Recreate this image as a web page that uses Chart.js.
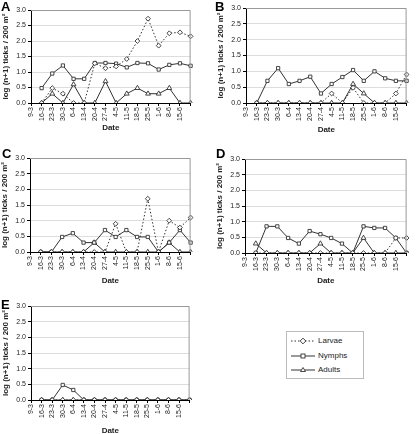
<!DOCTYPE html>
<html>
<head>
<meta charset="utf-8">
<script src="https://cdn.jsdelivr.net/npm/chart.js@4/dist/chart.umd.min.js"></script>
<style>
  body { margin: 0; width: 416px; height: 434px; background: #fff; position: relative; overflow: hidden;
         font-family: "Liberation Sans", Arial, sans-serif; }
  canvas { position: absolute; }
  .letter { position: absolute; font-weight: bold; font-size: 13px; line-height: 13px; color: #000; }
  .legend { position: absolute; left: 286px; top: 331px; width: 76px; height: 46px; border: 1px solid #bbb; }
  .legend div { position: absolute; left: 3px; height: 10px; font-size: 8px; line-height: 10px; color: #222; }
  .legend svg { vertical-align: top; margin-right: 2px; }
</style>
</head>
<body>

<script>
// sampling dates (last one has no label on the axis)
const dates = ['9-3', '16-3', '23-3', '30-3', '6-4', '13-4', '20-4', '27-4', '4-5', '11-5',
               '18-5', '25-5', '1-6', '8-6', '15-6', '22-6'];
const yTicks = [0, 0.5, 1.0, 1.5, 2.0, 2.5, 3.0];

// log(n+1) ticks / 200 m2, one value per date (9-3 not sampled)
const larvaeA = [null, 0, 0.48, 0.3, 0, 0, 1.28, 1.12, 1.18, 1.42, 2.0, 2.72, 1.85, 2.25, 2.28, 2.15];
const nymphsA = [null, 0.48, 0.95, 1.21, 0.78, 0.78, 1.29, 1.29, 1.27, 1.15, 1.29, 1.28, 1.08, 1.23, 1.28, 1.2];
const adultsA = [null, 0, 0.3, 0, 0.6, 0, 0, 0.7, 0, 0.3, 0.48, 0.3, 0.3, 0.48, 0, 0];

const larvaeB = [null, 0, 0, 0, 0, 0, 0, 0, 0.3, 0, 0.48, 0, 0, 0, 0.3, 0.9];
const nymphsB = [null, 0, 0.7, 1.1, 0.6, 0.7, 0.83, 0.3, 0.6, 0.82, 1.04, 0.7, 1.0, 0.78, 0.7, 0.7];
const adultsB = [null, 0, 0, 0, 0, 0, 0, 0, 0, 0, 0.6, 0.3, 0, 0, 0, 0];

const larvaeC = [null, 0, 0, 0, 0, 0, 0, 0, 0.9, 0, 0, 1.7, 0, 1.0, 0.78, 1.1];
const nymphsC = [null, 0, 0, 0.48, 0.6, 0.3, 0.3, 0.7, 0.48, 0.7, 0.48, 0.48, 0, 0.3, 0.7, 0.3];
const adultsC = [null, 0, 0, 0, 0, 0, 0.3, 0, 0, 0, 0, 0, 0, 0.3, 0, 0];

const larvaeD = [null, 0, 0, 0, 0, 0, 0, 0, 0, 0, 0, 0, 0, 0, 0.48, 0.48];
const nymphsD = [null, 0, 0.85, 0.85, 0.48, 0.3, 0.7, 0.6, 0.48, 0.3, 0, 0.85, 0.8, 0.8, 0.48, 0];
const adultsD = [null, 0.3, 0, 0, 0, 0, 0, 0.3, 0, 0, 0, 0.48, 0, 0, 0, 0];

const larvaeE = [null, 0, 0, 0, 0, 0, 0, 0, 0, 0, 0, 0, 0, 0, 0, 0];
const nymphsE = [null, 0, 0, 0.48, 0.32, 0, 0, 0, 0, 0, 0, 0, 0, 0, 0, 0];
const adultsE = [null, 0, 0, 0, 0, 0, 0, 0, 0, 0, 0, 0, 0, 0, 0, 0];

// where each panel's plot area sits on the page
const panels = [
  { name: 'A', larvae: larvaeA, nymphs: nymphsA, adults: adultsA,
    plot: [31, 10, 198, 103], dateY: 128, letter: [1, 0] },
  { name: 'B', larvae: larvaeB, nymphs: nymphsB, adults: adultsB,
    plot: [246, 8, 414, 103], dateY: 130, letter: [215, 0] },
  { name: 'C', larvae: larvaeC, nymphs: nymphsC, adults: adultsC,
    plot: [30, 158, 198, 252], dateY: 281, letter: [2, 147] },
  { name: 'D', larvae: larvaeD, nymphs: nymphsD, adults: adultsD,
    plot: [245, 159, 414, 253], dateY: 281, letter: [216, 147] },
  { name: 'E', larvae: larvaeE, nymphs: nymphsE, adults: adultsE,
    plot: [31, 306, 197, 400], dateY: 431, letter: [1, 298] }
];

const ink = '#333';
const tickFont = { family: 'Liberation Sans', size: 7 };
const titleFont = { family: 'Liberation Sans', size: 8, weight: 'bold' };

// gray top/right frame of the plot area
const frame = {
  id: 'frame',
  afterDraw(chart) {
    const { ctx, chartArea: a } = chart;
    ctx.save();
    ctx.strokeStyle = '#999';
    ctx.lineWidth = 1;
    ctx.beginPath();
    ctx.moveTo(a.left, a.top + 0.5);
    ctx.lineTo(a.right - 0.5, a.top + 0.5);
    ctx.lineTo(a.right - 0.5, a.bottom);
    ctx.stroke();
    ctx.restore();
  }
};

function makePanel(p) {
  const [pl, pt, pr, pb] = p.plot;
  const left = pl - 31;
  const top = pt - 8;
  const width = pr + 2 - left;
  const height = p.dateY + 5 - top;

  const canvas = document.createElement('canvas');
  canvas.width = width;
  canvas.height = height;
  canvas.style.left = left + 'px';
  canvas.style.top = top + 'px';
  document.body.appendChild(canvas);

  const letter = document.createElement('div');
  letter.className = 'letter';
  letter.textContent = p.name;
  letter.style.left = p.letter[0] + 'px';
  letter.style.top = p.letter[1] + 'px';
  document.body.appendChild(letter);

  const yWidth = pl - left;
  const xHeight = top + height - pb;

  new Chart(canvas, {
    type: 'line',
    data: {
      labels: dates,
      datasets: [
        { label: 'Larvae', data: p.larvae, borderColor: ink, borderWidth: 1, borderDash: [1.5, 2],
          pointStyle: 'rectRot', pointRadius: 2.4, pointBackgroundColor: '#fff', pointBorderColor: ink,
          pointBorderWidth: 0.9 },
        { label: 'Nymphs', data: p.nymphs, borderColor: ink, borderWidth: 1,
          pointStyle: 'rect', pointRadius: 2.3, pointBackgroundColor: '#fff', pointBorderColor: ink,
          pointBorderWidth: 0.9 },
        { label: 'Adults', data: p.adults, borderColor: ink, borderWidth: 1,
          pointStyle: 'triangle', pointRadius: 2.8, pointBackgroundColor: '#fff', pointBorderColor: ink,
          pointBorderWidth: 0.9 }
      ]
    },
    options: {
      responsive: false,
      animation: false,
      layout: { padding: { left: 0, top: pt - top, right: left + width - pr, bottom: 0 } },
      plugins: { legend: { display: false }, tooltip: { enabled: false } },
      scales: {
        x: {
          offset: false,
          border: { color: '#000', width: 1 },
          grid: { drawOnChartArea: false, drawTicks: true, tickLength: 3, color: '#000' },
          ticks: {
            font: tickFont, color: '#222', autoSkip: false, minRotation: 90, maxRotation: 90, padding: 1,
            callback: (v, i) => (i === dates.length - 1 ? '' : dates[i])
          },
          title: { display: true, text: 'Date', font: titleFont, color: '#222', padding: 0 },
          afterFit: (s) => { s.height = xHeight; }
        },
        y: {
          min: 0, max: 3,
          afterBuildTicks: (s) => { s.ticks = yTicks.map(v => ({ value: v })); },
          border: { color: '#000', width: 1 },
          grid: { color: '#ddd', drawTicks: true, tickLength: 3, tickColor: '#000' },
          ticks: { font: tickFont, color: '#222', padding: 2, callback: (v) => Number(v).toFixed(1) },
          title: { display: true, text: 'log (n+1) ticks / 200 m²', font: titleFont, color: '#222', padding: 1 },
          afterFit: (s) => { s.width = yWidth; }
        }
      }
    },
    plugins: [frame]
  });
}

panels.forEach(makePanel);
</script>

<div class="legend">
  <div style="top:4px">
    <svg width="26" height="10"><line x1="1" y1="5" x2="25" y2="5" stroke="#333" stroke-width="1" stroke-dasharray="1.5,2"/>
      <rect x="11" y="3" width="4" height="4" transform="rotate(45 13 5)" fill="#fff" stroke="#333" stroke-width="0.9"/></svg>Larvae
  </div>
  <div style="top:19px">
    <svg width="26" height="10"><line x1="1" y1="5" x2="25" y2="5" stroke="#333" stroke-width="1"/>
      <rect x="11" y="3" width="4" height="4" fill="#fff" stroke="#333" stroke-width="0.9"/></svg>Nymphs
  </div>
  <div style="top:33px">
    <svg width="26" height="10"><line x1="1" y1="5" x2="25" y2="5" stroke="#333" stroke-width="1"/>
      <polygon points="13,2.5 15.5,6.5 10.5,6.5" fill="#fff" stroke="#333" stroke-width="0.9"/></svg>Adults
  </div>
</div>
</body>
</html>
